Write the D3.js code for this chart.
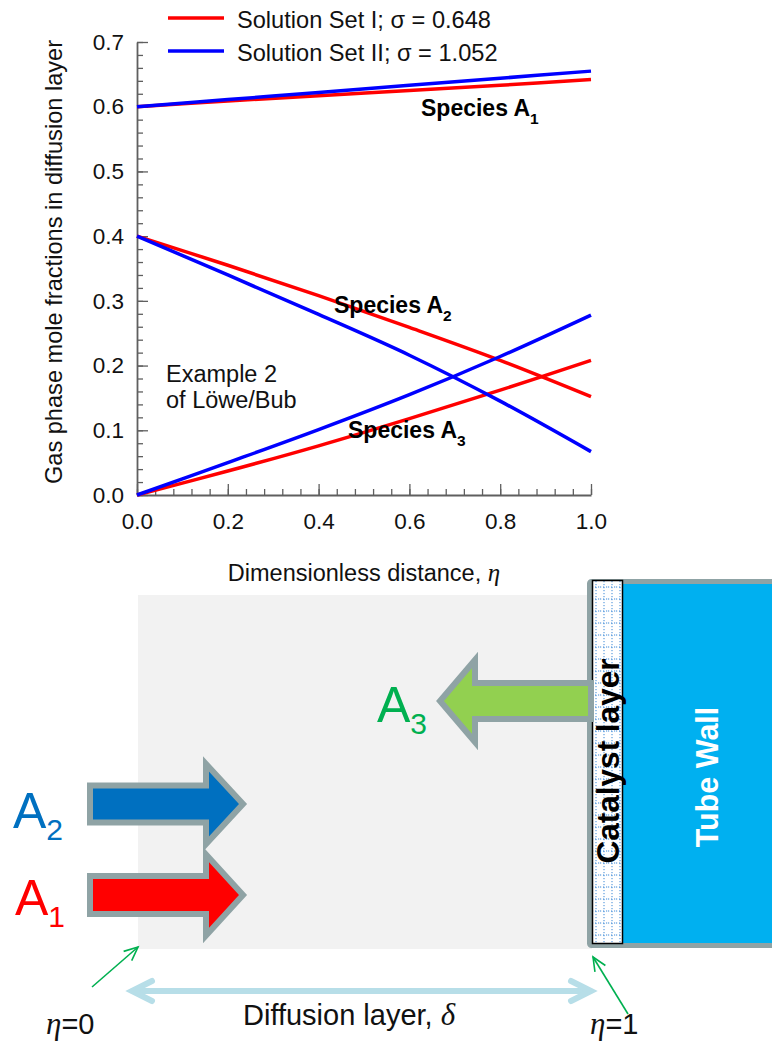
<!DOCTYPE html>
<html><head><meta charset="utf-8">
<script src="https://cdn.jsdelivr.net/npm/d3@7/dist/d3.min.js"></script>
<style>
html,body{margin:0;padding:0;background:#fff;}
svg text{font-family:Arial,"Liberation Sans",sans-serif;}
.serif{font-family:"Times New Roman","Liberation Serif",serif;font-style:italic;}
</style></head>
<body>
<svg id="c" width="772" height="1044"></svg>
<script>
// ---------- data ----------
const eta      = [0.0, 0.2, 0.4, 0.6, 0.8, 1.0];
const setI_A1  = [0.600, 0.609, 0.617, 0.625, 0.633, 0.642];
const setI_A2  = [0.400, 0.355, 0.308, 0.259, 0.208, 0.152];
const setI_A3  = [0.000, 0.037, 0.076, 0.118, 0.162, 0.208];
const setII_A1 = [0.600, 0.611, 0.622, 0.633, 0.644, 0.655];
const setII_A2 = [0.400, 0.340, 0.279, 0.216, 0.145, 0.067];
const setII_A3 = [0.000, 0.050, 0.101, 0.155, 0.214, 0.278];
const xTicks = [0.0, 0.2, 0.4, 0.6, 0.8, 1.0];
const yTicks = [0.0, 0.1, 0.2, 0.3, 0.4, 0.5, 0.6, 0.7];
const legendLabels = ["Solution Set I; \u03C3 = 0.648", "Solution Set II; \u03C3 = 1.052"];
const seriesColors = ["#ff0000", "#0000ff"];

const svg = d3.select("#c");
const x = d3.scaleLinear().domain([0, 1]).range([137, 591]);
const y = d3.scaleLinear().domain([0, 0.7]).range([495, 42]);
const axisColor = "#5f5f5f";

// ---------- axes ----------
const gx = svg.append("g").attr("transform", `translate(0,${y(0)})`);
gx.call(d3.axisBottom(x).tickValues(d3.range(0, 1.0001, 0.04)).tickSize(-6).tickFormat(""));
gx.selectAll(".tick line").attr("stroke", axisColor).attr("stroke-width", 1.3);
gx.select(".domain").remove();
const gx2 = svg.append("g").attr("transform", `translate(0,${y(0)})`);
gx2.call(d3.axisBottom(x).tickValues(xTicks).tickSize(-11).tickPadding(18).tickFormat(d3.format(".1f")).tickSizeOuter(0));
gx2.selectAll(".tick line").attr("stroke", axisColor).attr("stroke-width", 1.3);
gx2.selectAll(".tick text").attr("font-size", 22.5).attr("fill", "#111").attr("font-family", "Arial, Liberation Sans, sans-serif");
gx2.select(".domain").attr("stroke", axisColor).attr("stroke-width", 1.8);

const gy = svg.append("g").attr("transform", `translate(${x(0)},0)`);
gy.call(d3.axisLeft(y).tickValues(d3.range(0, 0.7001, 0.02)).tickSize(-6).tickFormat(""));
gy.selectAll(".tick line").attr("stroke", axisColor).attr("stroke-width", 1.3);
gy.select(".domain").remove();
const gy2 = svg.append("g").attr("transform", `translate(${x(0)},0)`);
gy2.call(d3.axisLeft(y).tickValues(yTicks).tickSize(-11).tickPadding(13).tickFormat(d3.format(".1f")).tickSizeOuter(0));
gy2.selectAll(".tick line").attr("stroke", axisColor).attr("stroke-width", 1.3);
gy2.selectAll(".tick text").attr("font-size", 22.5).attr("fill", "#111").attr("font-family", "Arial, Liberation Sans, sans-serif");
gy2.select(".domain").attr("stroke", axisColor).attr("stroke-width", 1.8);

// axis titles
const xl = svg.append("text").attr("x", (x(0) + x(1)) / 2).attr("y", 581).attr("text-anchor", "middle")
  .attr("font-size", 23.5).attr("fill", "#111");
xl.append("tspan").text("Dimensionless distance, ");
xl.append("tspan").attr("class", "serif").attr("font-size", 25).text("\u03B7");

svg.append("text").attr("transform", "translate(62,262) rotate(-90)").attr("text-anchor", "middle")
  .attr("font-size", 23.6).attr("fill", "#111").text("Gas phase mole fractions in diffusion layer");

// ---------- lines ----------
const line = d3.line().x((d, i) => x(eta[i])).y(d => y(d)).curve(d3.curveCatmullRom.alpha(0.5));
const series = [
  {v: setI_A1, c: 0}, {v: setI_A2, c: 0}, {v: setI_A3, c: 0},
  {v: setII_A1, c: 1}, {v: setII_A2, c: 1}, {v: setII_A3, c: 1}
];
svg.append("g").selectAll("path").data(series).join("path")
  .attr("d", d => line(d.v)).attr("fill", "none")
  .attr("stroke", d => seriesColors[d.c]).attr("stroke-width", 3.5);

// ---------- legend ----------
legendLabels.forEach((lab, i) => {
  const ly = 18 + i * 33;
  svg.append("line").attr("x1", 168).attr("x2", 224).attr("y1", ly).attr("y2", ly)
    .attr("stroke", seriesColors[i]).attr("stroke-width", 3.5);
  svg.append("text").attr("x", 237).attr("y", ly + 10).attr("font-size", 23.6).attr("fill", "#111").text(lab);
});

// ---------- annotations inside plot ----------
function species(px, py, sub) {
  const t = svg.append("text").attr("x", px).attr("y", py).attr("font-size", 23)
    .attr("font-weight", "bold").attr("fill", "#000");
  t.append("tspan").text("Species A");
  t.append("tspan").attr("font-size", 15.5).attr("dy", 8).text(sub);
}
species(421, 116, "1");
species(334, 313, "2");
species(348, 438, "3");
svg.append("text").attr("x", 166).attr("y", 382).attr("font-size", 23.5).attr("fill", "#111").text("Example 2");
svg.append("text").attr("x", 166).attr("y", 408).attr("font-size", 23.5).attr("fill", "#111").text("of L\u00F6we/Bub");

// ---------- schematic ----------
const border = "#8fa3a5";
svg.append("rect").attr("x", 138).attr("y", 595).attr("width", 454).attr("height", 354).attr("fill", "#f2f2f2");

const defs = svg.append("defs");
const pat = defs.append("pattern").attr("id", "grid").attr("patternUnits", "userSpaceOnUse")
  .attr("x", 592).attr("y", 581).attr("width", 8).attr("height", 12);
pat.append("rect").attr("width", 8).attr("height", 12).attr("fill", "#fff");
pat.append("line").attr("x1", 4).attr("x2", 4).attr("y1", 0).attr("y2", 12)
  .attr("stroke", "#3c8ad8").attr("stroke-width", 1).attr("stroke-dasharray", "1.2,1.8");
pat.append("line").attr("x1", 0).attr("x2", 8).attr("y1", 6).attr("y2", 6)
  .attr("stroke", "#3c8ad8").attr("stroke-width", 1).attr("stroke-dasharray", "1.2,1.8");

svg.append("rect").attr("x", 589.5).attr("y", 581.5).attr("width", 200).attr("height", 364)
  .attr("fill", "#00b0f0").attr("stroke", border).attr("stroke-width", 5).attr("rx", 2);
svg.append("rect").attr("x", 592.5).attr("y", 580.5).attr("width", 30).attr("height", 363)
  .attr("fill", "url(#grid)").attr("stroke", "#000").attr("stroke-width", 1.5);
svg.append("text").attr("transform", "translate(619,761) rotate(-90)").attr("text-anchor", "middle")
  .attr("font-size", 31.5).attr("font-weight", "bold").attr("fill", "#000").text("Catalyst layer");
svg.append("text").attr("transform", "translate(718,777) rotate(-90)").attr("text-anchor", "middle")
  .attr("font-size", 30.5).attr("font-weight", "bold").attr("fill", "#fff").text("Tube Wall");

function arrowPath(x0, xn, xt, yc, sh, hh) {
  return `M${x0},${yc - sh}L${xn},${yc - sh}L${xn},${yc - hh}L${xt},${yc}L${xn},${yc + hh}L${xn},${yc + sh}L${x0},${yc + sh}Z`;
}
svg.append("path").attr("d", arrowPath(90, 206, 243, 804, 18.5, 40)).attr("fill", "#0070c0")
  .attr("stroke", border).attr("stroke-width", 6).attr("stroke-linejoin", "miter");
svg.append("path").attr("d", arrowPath(90, 206, 243, 895, 19, 40.5)).attr("fill", "#ff0000")
  .attr("stroke", border).attr("stroke-width", 6).attr("stroke-linejoin", "miter");
svg.append("path").attr("d", arrowPath(591, 475, 440, 701, 18, 41)).attr("fill", "#92d050")
  .attr("stroke", border).attr("stroke-width", 6).attr("stroke-linejoin", "miter");

function bigLabel(px, py, sub, col) {
  const t = svg.append("text").attr("x", px).attr("y", py).attr("font-size", 50).attr("fill", col);
  t.append("tspan").text("A");
  t.append("tspan").attr("font-size", 30).attr("dy", 12).text(sub);
}
bigLabel(13, 828, "2", "#0070c0");
bigLabel(15, 915, "1", "#ff0000");
bigLabel(377, 722, "3", "#00b050");

// double arrow
const da = svg.append("g").attr("stroke", "#b7dee8").attr("stroke-width", 6).attr("stroke-linecap", "round").attr("fill", "none");
da.append("line").attr("x1", 133).attr("x2", 590).attr("y1", 991).attr("y2", 991);
da.append("path").attr("d", "M152,981L132,991L152,1001");
da.append("path").attr("d", "M571,981L591,991L571,1001");
const dl = svg.append("text").attr("x", 243).attr("y", 1025).attr("font-size", 29).attr("fill", "#111");
dl.append("tspan").text("Diffusion layer, ");
dl.append("tspan").attr("class", "serif").attr("font-size", 31).text("\u03B4");

// green pointers
function pointer(x1, y1, x2, y2) {
  const g = svg.append("g").attr("stroke", "#00b050").attr("stroke-width", 1.6).attr("fill", "none");
  g.append("line").attr("x1", x1).attr("y1", y1).attr("x2", x2).attr("y2", y2);
  const a = Math.atan2(y1 - y2, x1 - x2), L = 15, s = 0.42;
  g.append("path").attr("d", `M${x2 + L * Math.cos(a - s)},${y2 + L * Math.sin(a - s)}L${x2},${y2}L${x2 + L * Math.cos(a + s)},${y2 + L * Math.sin(a + s)}`);
}
pointer(92, 987, 138, 947);
pointer(628, 1014, 593, 957);

function etaLabel(px, py, v) {
  const t = svg.append("text").attr("x", px).attr("y", py).attr("font-size", 29).attr("fill", "#111");
  t.append("tspan").attr("class", "serif").attr("font-size", 31).text("\u03B7");
  t.append("tspan").text("=" + v);
}
etaLabel(46, 1034, "0");
etaLabel(590, 1034, "1");
</script>
</body></html>
